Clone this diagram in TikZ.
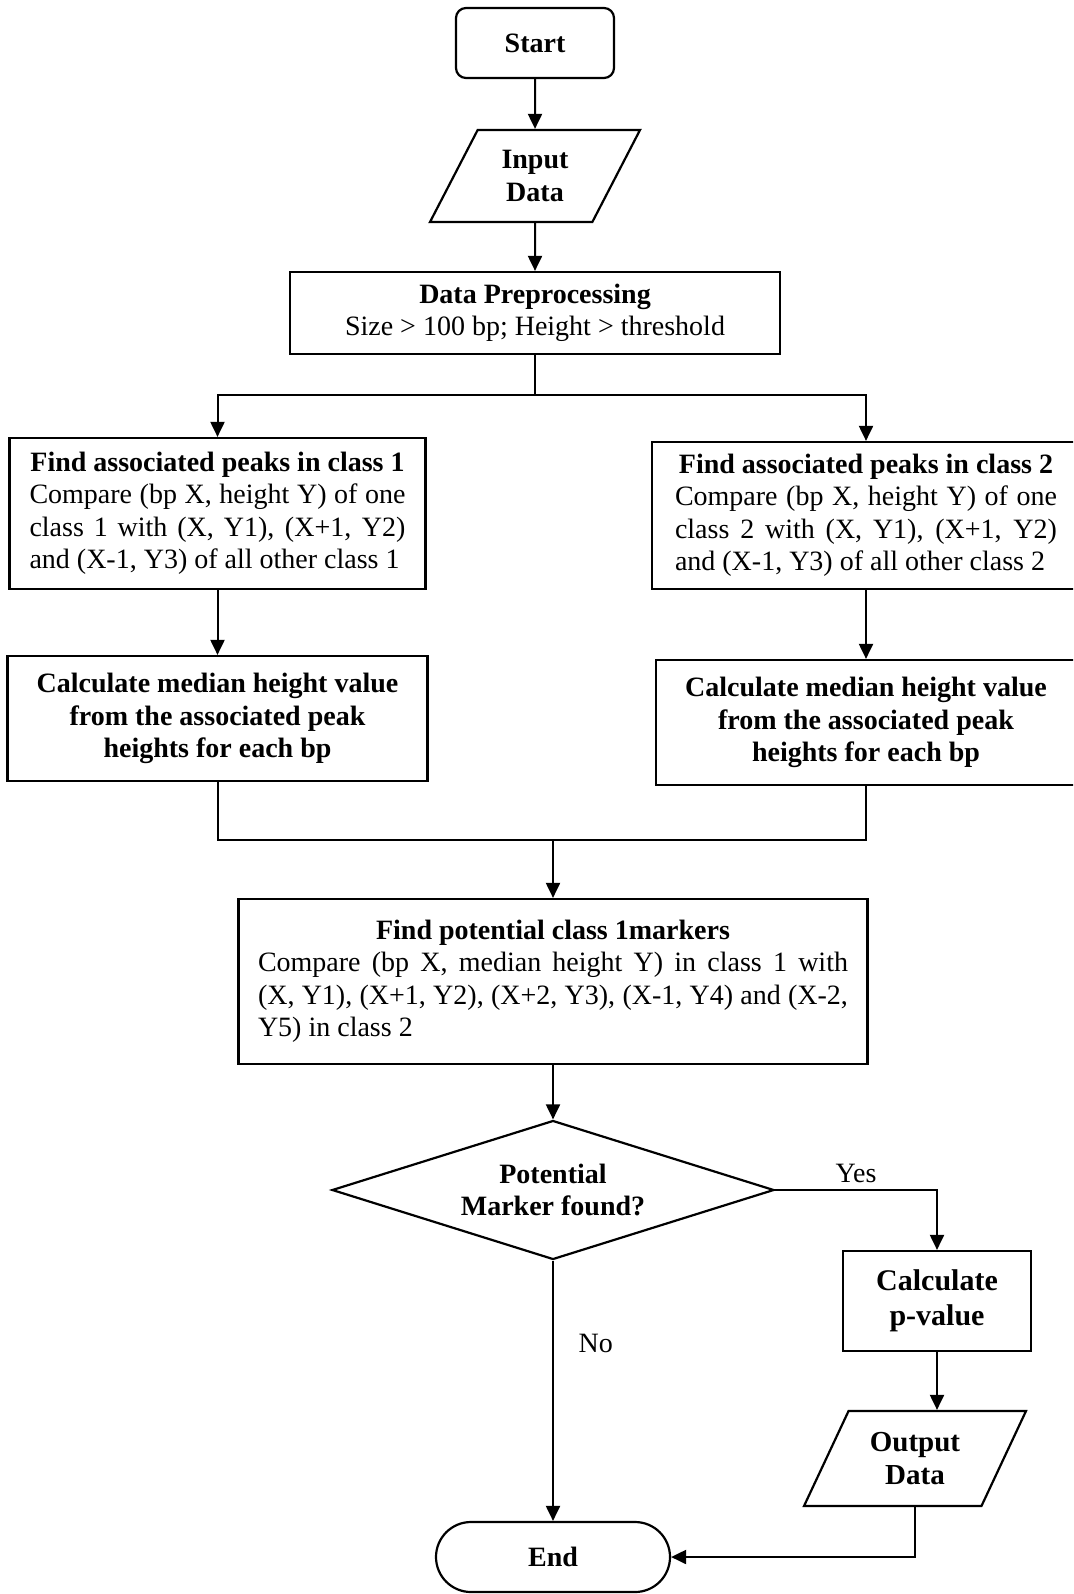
\documentclass[tikz,border=0pt]{standalone}
\usepackage{fontspec}
\setmainfont{Liberation Serif}
\usetikzlibrary{positioning,shapes.geometric,shapes.misc,arrows.meta}

\newcommand\boxfont{\fontsize{14}{16.25}\selectfont}

\tikzset{
  base/.style={draw, line width=1.1pt, font=\boxfont, inner sep=0pt},
  proc/.style={base, rectangle},
  startbox/.style={base, rectangle, rounded corners=5pt},
  term/.style={base, rounded rectangle},
  io/.style={base, trapezium, trapezium stretches body},
  decision/.style={base, diamond, aspect=3.18},
  lbl/.style={font=\boxfont},
  line/.style={line width=1pt},
  arrow/.style={line width=1pt, -{Triangle[length=7.5pt,width=7pt]}},
}

\begin{document}
\begin{tikzpicture}[x=0.5pt,y=-0.5pt]
  \useasboundingbox (0,0) rectangle (1073,1594);
  \clip (0,0) rectangle (1073,1594);

  \node[startbox, minimum width=79pt, minimum height=35pt, font=\boxfont\bfseries] (start) at (535,43) {Start};
  \node[io, trapezium left angle=47, trapezium right angle=133, minimum width=105pt, minimum height=46pt, align=center, font=\boxfont\bfseries] (input) at (535,176) {Input\\Data};
  \node[proc, minimum width=245pt, minimum height=41pt, align=center] (pre) at (535,313)
    {\textbf{Data Preprocessing}\\Size > 100 bp; Height > threshold};

  \node[proc, minimum width=208pt, minimum height=75.5pt, text width=188pt, align=justify] (find1) at (217.5,513.5)
    {\makebox[\linewidth][c]{\bfseries Find associated peaks in class 1}\\
     Compare (bp X, height Y) of one\linebreak class 1 with (X, Y1), (X+1, Y2)\linebreak and (X-1, Y3) of all other class 1};
  \node[proc, minimum width=214pt, minimum height=73.5pt, text width=191pt, align=justify] (find2) at (866,515.5)
    {\makebox[\linewidth][c]{\bfseries Find associated peaks in class 2}\\
     Compare (bp X, height Y) of one\linebreak class 2 with (X, Y1), (X+1, Y2)\linebreak and (X-1, Y3) of all other class 2};

  \node[proc, minimum width=210pt, minimum height=62.5pt, align=center, font=\boxfont\bfseries] (med1) at (217.5,718.5)
    {Calculate median height value\\from the associated peak\\heights for each bp};
  \node[proc, minimum width=210pt, minimum height=62.5pt, align=center, font=\boxfont\bfseries] (med2) at (866,722.5)
    {Calculate median height value\\from the associated peak\\heights for each bp};

  \node[proc, minimum width=314.5pt, minimum height=82.5pt, text width=295pt, align=justify] (find3) at (553,981.5)
    {\makebox[\linewidth][c]{\bfseries Find potential class 1markers}\\
     Compare (bp X, median height Y) in class 1 with\linebreak (X, Y1), (X+1, Y2), (X+2, Y3), (X-1, Y4) and (X-2,\linebreak Y5) in class 2};

  \node[decision, minimum width=221pt, minimum height=69.5pt, align=center, font=\boxfont\bfseries] (found) at (553,1190)
    {Potential\\Marker found?};
  \node[proc, minimum width=94pt, minimum height=50pt, align=center, font=\fontsize{15}{17.5}\selectfont\bfseries] (pval) at (937,1301)
    {Calculate\\p-value};
  \node[io, trapezium left angle=50, trapezium right angle=130, minimum width=111pt, minimum height=47.5pt, align=center, font=\fontsize{14.5}{16.8}\selectfont\bfseries] (output) at (915,1458.5)
    {Output\\Data};
  \node[term, minimum width=117pt, minimum height=35pt, font=\boxfont\bfseries] (end) at (553,1557) {End};

  \coordinate (split) at (535,395);
  \coordinate (merge) at (553,840);

  \draw[arrow] (start) -- (input);
  \draw[arrow] (input) -- (pre);
  \draw[line] (pre) -- (split);
  \draw[arrow] (split) -| (find1.north);
  \draw[arrow] (split) -| (find2.north);
  \draw[arrow] (find1) -- (med1);
  \draw[arrow] (find2) -- (med2);
  \draw[line] (med1.south) |- (merge) -| (med2.south);
  \draw[arrow] (merge) -- (find3.north);
  \draw[arrow] (find3) -- (found);
  \draw[arrow] (found.east) -| node[lbl, pos=0.25, above] (yes) {Yes} (pval.north);
  \draw[arrow] (pval.south) -- (pval.south |- output.north);
  \draw[arrow] (output.south) |- (end.east);
  \draw[arrow] (found.south) -- node[lbl, pos=0.32, right=9pt] (no) {No} (end.north);
\end{tikzpicture}
\end{document}
